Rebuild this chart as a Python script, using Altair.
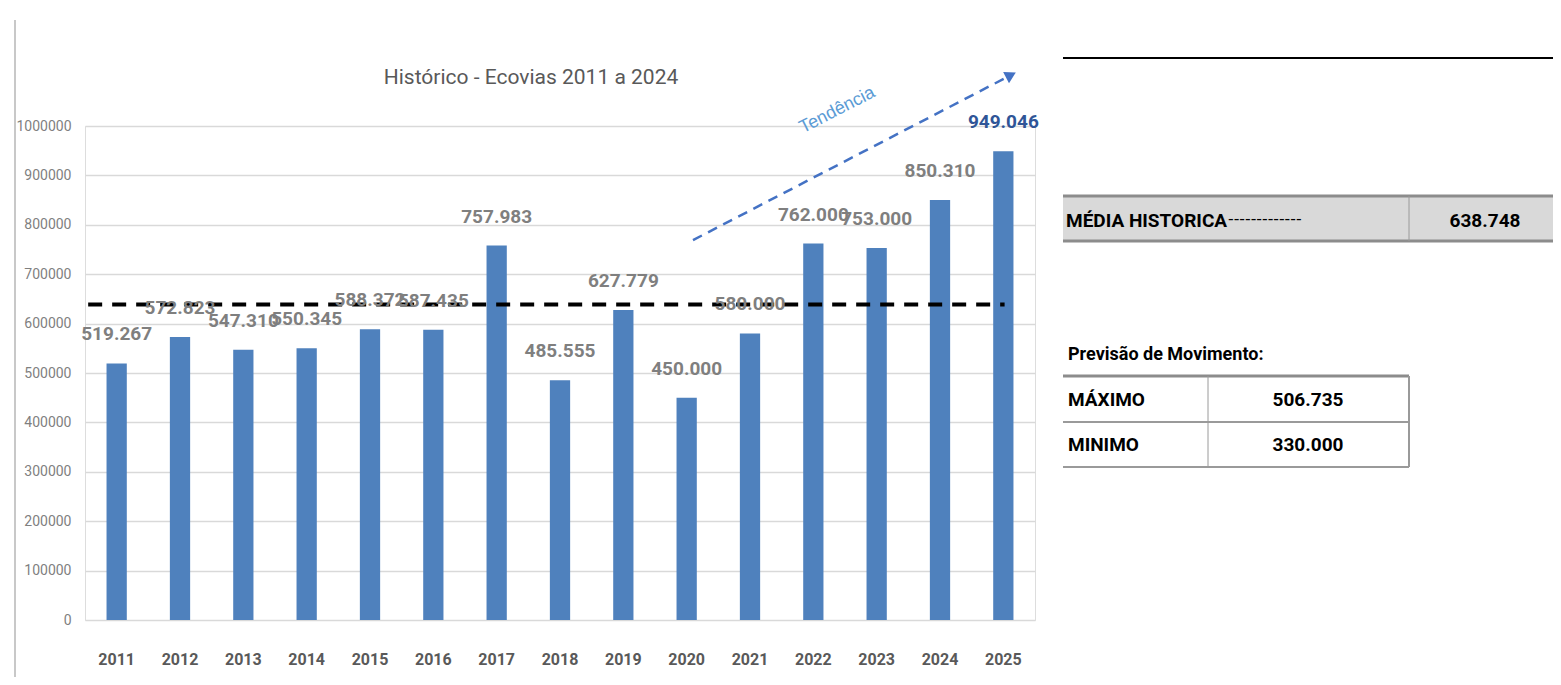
import altair as alt
import pandas as pd

# ---------------- data ----------------
years = ["2011", "2012", "2013", "2014", "2015", "2016", "2017", "2018",
         "2019", "2020", "2021", "2022", "2023", "2024", "2025"]
values = [519267, 572823, 547310, 550345, 588372, 587435, 757983, 485555,
          627779, 450000, 580000, 762000, 753000, 850310, 949046]
y_ticks = [0, 100000, 200000, 300000, 400000, 500000, 600000, 700000,
           800000, 900000, 1000000]
media_historica = 638748
prev_maximo = 506735
prev_minimo = 330000
highlight_year = "2025"
# trend arrow, in bar-index units (x) and value units (y)
trend_x = [9.6, 14.62]
trend_y = [769000, 1103000]
trend_label = "Tendência"
trend_label_pos = (11.88, 1032000)
# mean line span in bar-index units
mean_span = [0.05, 14.52]
title_text = "Histórico - Ecovias 2011 a 2024"


def br(n):
    return f"{n:,}".replace(",", ".")


bars_df = pd.DataFrame({"year": years, "value": values,
                        "label": [br(v) for v in values]})
bars_df["hl"] = bars_df["year"] == highlight_year

FONT = "Roboto, sans-serif"
BLUE = "#4f81bd"
GRAY_TXT = "#7f7f7f"
AXIS_TXT = "#595959"

W, H = 950, 494

band_scale = alt.Scale(domain=years, paddingInner=0.68, paddingOuter=0.34)
xband = alt.X("year:N", sort=years, scale=band_scale,
              axis=alt.Axis(title=None, labelAngle=0, labelFontWeight="bold",
                            labelFontSize=16, labelColor=AXIS_TXT, labelFont=FONT,
                            labelPadding=31, domain=False, ticks=False, grid=False))
yscale = alt.Y("value:Q",
               scale=alt.Scale(domain=[0, 1000000], nice=False),
               axis=alt.Axis(title=None, values=y_ticks, format="d",
                             labelColor=GRAY_TXT, labelFont=FONT, labelFontSize=14,
                             labelPadding=14, domain=False, ticks=False,
                             gridColor="#d9d9d9", gridWidth=1.5))

base = alt.Chart(bars_df)
bars = base.mark_bar(color=BLUE).encode(x=xband, y=yscale)

# quantitative x in bar-index units for trend / mean line
xq = alt.Scale(domain=[0, len(years)], nice=False, zero=False)

mean_df = pd.DataFrame({"x": [mean_span[0]], "x2": [mean_span[1]],
                        "value": [media_historica]})
mean_line = alt.Chart(mean_df).mark_rule(color="black", strokeWidth=4,
                                         strokeDash=[14, 10]).encode(
    x=alt.X("x:Q", scale=xq, axis=None), x2="x2:Q", y=alt.Y("value:Q"))

labels = base.mark_text(baseline="bottom", dy=-19, fontSize=19,
                        fontWeight="bold", font=FONT).encode(
    x=alt.X("year:N", sort=years, scale=band_scale, axis=None),
    y=alt.Y("value:Q"),
    text="label:N",
    color=alt.condition("datum.hl", alt.value("#2f5597"), alt.value(GRAY_TXT)))

trend_df = pd.DataFrame({"x": trend_x, "value": trend_y})
trend_line = alt.Chart(trend_df).mark_line(color="#4472c4", strokeWidth=2.5,
                                           strokeDash=[10, 7]).encode(
    x=alt.X("x:Q", scale=xq, axis=None), y=alt.Y("value:Q"))
head_df = pd.DataFrame({"x": [trend_x[1]], "value": [trend_y[1]]})
trend_head = alt.Chart(head_df).mark_point(shape="triangle-up", filled=True,
                                           color="#4472c4", size=160, opacity=1,
                                           angle=62.5).encode(
    x=alt.X("x:Q", scale=xq, axis=None), y=alt.Y("value:Q"))
tl_df = pd.DataFrame({"x": [trend_label_pos[0]], "value": [trend_label_pos[1]],
                      "t": [trend_label]})
trend_text = alt.Chart(tl_df).mark_text(angle=333, color="#5b9bd5", fontSize=18,
                                        font="Liberation Sans, sans-serif").encode(
    x=alt.X("x:Q", scale=xq, axis=None), y=alt.Y("value:Q"), text="t:N")

one = pd.DataFrame({"a": [0]})


def rect(x1, x2, y1, y2, color):
    return alt.Chart(one).mark_rect(color=color).encode(
        x=alt.value(x1), x2=alt.value(x2), y=alt.value(y1), y2=alt.value(y2))


def hline(x1, x2, y, color, w):
    return alt.Chart(one).mark_rule(color=color, strokeWidth=w).encode(
        x=alt.value(x1), x2=alt.value(x2), y=alt.value(y))


def vline(x, y1, y2, color, w):
    return alt.Chart(one).mark_rule(color=color, strokeWidth=w).encode(
        x=alt.value(x), y=alt.value(y1), y2=alt.value(y2))


def txt(s, x, y, size, align="left", weight="bold", color="black", font=FONT):
    return alt.Chart(pd.DataFrame({"t": [s]})).mark_text(
        align=align, baseline="middle", fontSize=size, fontWeight=weight,
        color=color, font=font).encode(x=alt.value(x), y=alt.value(y), text="t:N")


decor = [
    # chart frame
    vline(-70, -106, 556, "#c8c8c8", 2),
    hline(-70, 955, 556, "#c8c8c8", 2),
    # title
    txt(title_text, 446, -48, 21, align="center", weight="normal", color=AXIS_TXT),
    # top right line
    hline(978, 1473, -68, "black", 2),
    # média box
    rect(978, 1473, 70, 115, "#d9d9d9"),
    hline(978, 1473, 70, "#8c8c8c", 3),
    hline(978, 1473, 115, "#8c8c8c", 3),
    vline(1324, 70, 115, "#9a9a9a", 1),
    txt("MÉDIA HISTORICA", 981, 95, 19),
    txt("-------------", 1143, 93, 17, weight="normal", font="Liberation Sans, sans-serif"),
    txt(br(media_historica), 1400, 95, 19, align="center"),
    # previsão table
    txt("Previsão de Movimento:", 983, 229, 18),
    hline(978, 1324, 250, "#8c8c8c", 3),
    hline(978, 1324, 296, "#9a9a9a", 2),
    hline(978, 1324, 341, "#9a9a9a", 2),
    vline(1123, 250, 341, "#9a9a9a", 1),
    vline(1324, 250, 341, "#9a9a9a", 2),
    txt("MÁXIMO", 983, 274, 19),
    txt(br(prev_maximo), 1223, 274, 19, align="center"),
    txt("MINIMO", 983, 319, 19),
    txt(br(prev_minimo), 1223, 319, 19, align="center"),
]

chart = alt.layer(
    bars, mean_line, labels, trend_line, trend_head, trend_text, *decor
).resolve_scale(x="independent").properties(
    width=W, height=H,
    autosize=alt.AutoSizeParams(type="none"),
    padding={"left": 77, "top": 118, "right": 518, "bottom": 57},
).configure_view(stroke=None).configure(background="white")

chart.save("out.html", embed_options={"renderer": "svg", "actions": False})
